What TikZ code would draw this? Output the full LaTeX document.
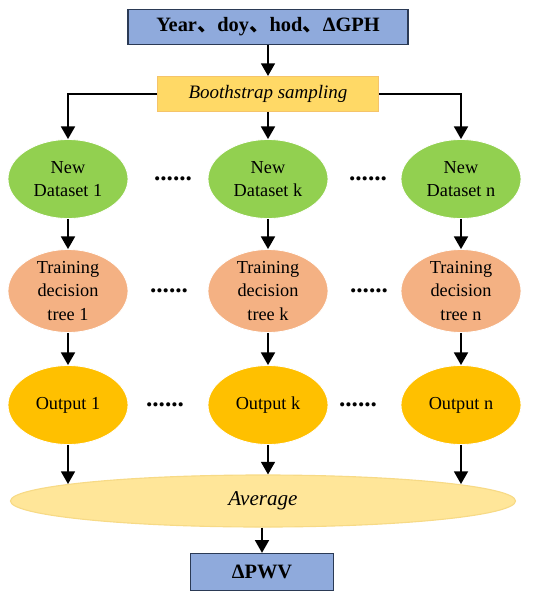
\documentclass[tikz,border=0pt]{standalone}
\usepackage{fontspec}
\setmainfont{Liberation Serif}
\newfontfamily\cjk{Noto Sans CJK SC}
\usepackage{tikz}
\usetikzlibrary{shapes.geometric, positioning, arrows.meta}
\definecolor{boxblue}{HTML}{8FAADC}
\definecolor{boxedge}{HTML}{2B3A55}
\definecolor{bootfill}{HTML}{FFD966}
\definecolor{bootedge}{HTML}{F5C46A}
\definecolor{dsgreen}{HTML}{92D050}
\definecolor{trsalmon}{HTML}{F4B183}
\definecolor{outorange}{HTML}{FFC000}
\definecolor{avgfill}{HTML}{FFE699}
\definecolor{avgedge}{HTML}{F7DA86}

\begin{document}
\begin{tikzpicture}[x=0.025cm, y=-0.025cm,
    font=\fontsize{13}{16.5}\selectfont,
    flow/.style={-{Triangle[length=9pt,width=10pt]}, line width=1.1pt},
    bluebox/.style={draw=boxedge, line width=1pt, fill=boxblue, inner sep=0pt, font=\fontsize{14.5}{16}\selectfont\bfseries},
    oval/.style={ellipse, draw=white, line width=0.6pt, inner sep=0pt, minimum width=3cm, minimum height=1.975cm, align=center},
    dots/.style={font=\fontsize{18}{18}\selectfont\bfseries, inner sep=0pt}]
    \useasboundingbox (0,0) rectangle (535,600);
    % input and sampling
    \node[bluebox, minimum width=7cm, minimum height=0.875cm] (input) at (268,27)
        {Year{\cjk 、}doy{\cjk 、}hod{\cjk 、}ΔGPH};
    \node[fill=bootfill, draw=bootedge, line width=0.8pt, minimum width=5.525cm, minimum height=0.875cm, inner sep=0pt, font=\fontsize{13.5}{16}\selectfont\itshape] (boot) at (268,94)
        {Boothstrap sampling};
    % three columns of trees
    \node[oval, fill=dsgreen] (ds1) at (68,179) {New\\Dataset 1};
    \node[oval, fill=dsgreen] (dsk) at (268,179) {New\\Dataset k};
    \node[oval, fill=dsgreen] (dsn) at (461,179) {New\\Dataset n};
    \node[oval, fill=trsalmon] (tr1) at (68,291) {Training\\decision\\tree 1};
    \node[oval, fill=trsalmon] (trk) at (268,291) {Training\\decision\\tree k};
    \node[oval, fill=trsalmon] (trn) at (461,291) {Training\\decision\\tree n};
    \node[oval, fill=outorange] (out1) at (68,405) {Output 1};
    \node[oval, fill=outorange] (outk) at (268,405) {Output k};
    \node[oval, fill=outorange] (outn) at (461,405) {Output n};
    % dots between columns
    \node[dots] (dotsa1) at (173,179) {......};
    \node[dots] (dotsb1) at (368,179) {......};
    \node[dots] (dotsa2) at (169,291) {......};
    \node[dots] (dotsb2) at (369,291) {......};
    \node[dots] (dotsa3) at (165,405) {......};
    \node[dots] (dotsb3) at (358,405) {......};
    % averaging and result
    \node[ellipse, fill=avgfill, draw=avgedge, line width=0.8pt, minimum width=12.625cm, minimum height=1.3cm, inner sep=0pt, font=\fontsize{15}{16}\selectfont\itshape] (avg) at (263,501)
        {Average};
    \node[bluebox, minimum width=3.575cm, minimum height=0.925cm] (pwv) at (262,572)
        {ΔPWV};

    \draw[flow] (input) -- (boot);
    \draw[flow] (boot.west) -| (ds1.north);
    \draw[flow] (boot) -- (dsk);
    \draw[flow] (boot.east) -| (dsn.north);
    \draw[flow] (ds1) -- (tr1);
    \draw[flow] (dsk) -- (trk);
    \draw[flow] (dsn) -- (trn);
    \draw[flow] (tr1) -- (out1);
    \draw[flow] (trk) -- (outk);
    \draw[flow] (trn) -- (outn);
    \draw[flow] (out1.south) -- (out1.south |- avg.175);
    \draw[flow] (outk.south) -- (outk.south |- avg.north);
    \draw[flow] (outn.south) -- (outn.south |- avg.5);
    \draw[flow] (avg.south -| pwv.north) -- (pwv.north);
\end{tikzpicture}
\end{document}
